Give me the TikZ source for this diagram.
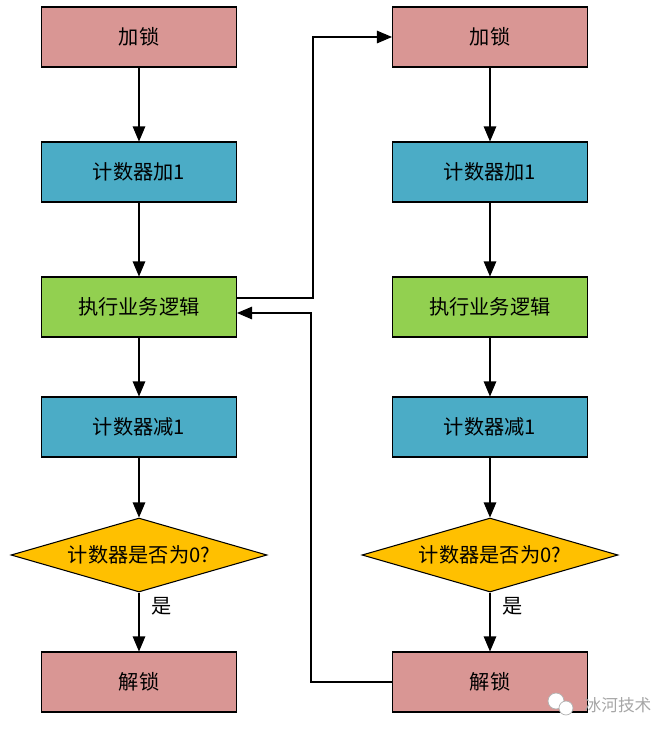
\documentclass[tikz,border=0pt]{standalone}
\usepackage{fontspec}
\setmainfont{Noto Sans CJK SC}
\usetikzlibrary{shapes.geometric,arrows.meta}
\definecolor{lockred}{HTML}{D99694}
\definecolor{countblue}{HTML}{4BACC6}
\definecolor{workgreen}{HTML}{92D050}
\definecolor{testgold}{HTML}{FFC000}
\tikzset{
  box/.style={draw, line width=0.6pt, rectangle, minimum width=3.9cm, minimum height=1.2cm,
    font=\fontsize{11.5}{14}\selectfont},
  lockbox/.style={box, fill=lockred},
  countbox/.style={box, fill=countblue},
  workbox/.style={box, fill=workgreen},
  testbox/.style={draw, line width=0.6pt, diamond, aspect=3.46, inner sep=0pt, fill=testgold,
    minimum width=5.12cm, minimum height=1.48cm, font=\fontsize{11.5}{14}\selectfont},
  arr/.style={line width=0.6pt, -{Triangle[length=0.3cm, width=0.25cm]}},
  link/.style={line width=0.6pt}
}
\begin{document}
\begin{tikzpicture}[x=0.02cm, y=-0.02cm]
  \useasboundingbox (0,0) rectangle (668,735);
  % left column
  \node[lockbox]  (ll) at (139,37)  {加锁};
  \node[countbox] (li) at (139,172) {计数器加1};
  \node[workbox]  (lw) at (139,307) {执行业务逻辑};
  \node[countbox] (ld) at (139,427) {计数器减1};
  \node[testbox]  (lt) at (139,555) {计数器是否为0?};
  \node[lockbox]  (lu) at (139,682) {解锁};
  % right column
  \node[lockbox]  (rl) at (490,37)  {加锁};
  \node[countbox] (ri) at (490,172) {计数器加1};
  \node[workbox]  (rw) at (490,307) {执行业务逻辑};
  \node[countbox] (rd) at (490,427) {计数器减1};
  \node[testbox]  (rt) at (490,555) {计数器是否为0?};
  \node[lockbox]  (ru) at (490,682) {解锁};
  \foreach \c in {l,r} {
    \draw[arr] (\c l) -- (\c i);
    \draw[arr] (\c i) -- (\c w);
    \draw[arr] (\c w) -- (\c d);
    \draw[arr] (\c d) -- (\c t);
    \draw[arr] (\c t) -- (\c u);
  }
  \node[font=\fontsize{11.5}{14}\selectfont] (ly) at (162,606) {是};
  \node[font=\fontsize{11.5}{14}\selectfont] (ry) at (513,606) {是};
  % re-entry between the two columns
  \draw[arr] ([yshift=0.18cm]lw.east) -- ++(1.52cm,0) |- (rl.west);
  \draw[arr] (ru.west) -- ++(-1.62cm,0) |- ([yshift=-0.12cm]lw.east);
  % watermark
  \draw[gray!60, fill=white] (556,701) circle (0.16cm);
  \draw[gray!60, fill=white] (566,708) circle (0.14cm);
  \node[text=gray!70, font=\fontsize{9.5}{11}\selectfont] (mark) at (618,705) {冰河技术};
\end{tikzpicture}
\end{document}
